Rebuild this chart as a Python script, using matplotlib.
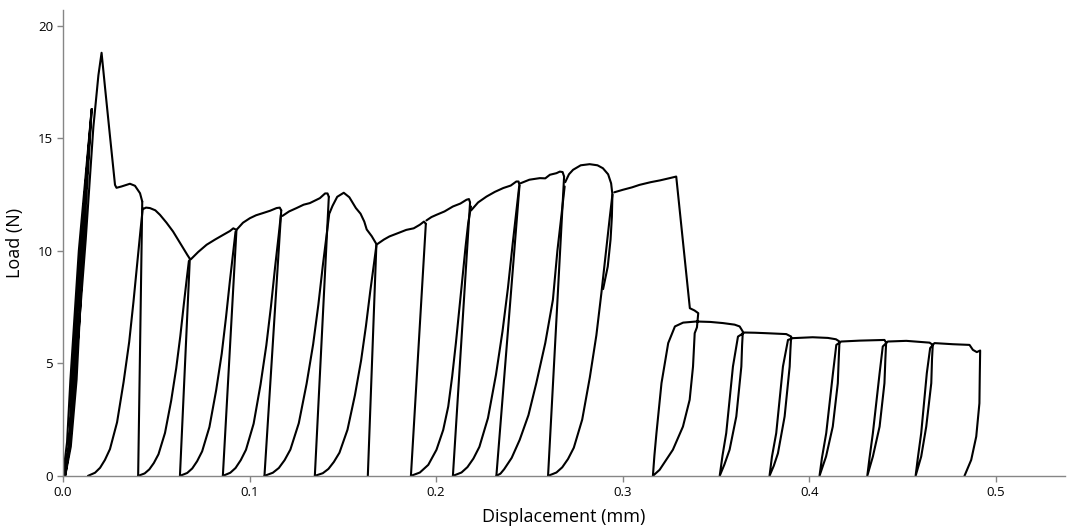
import matplotlib
matplotlib.use("Agg")
import matplotlib.pyplot as plt

# --- initial cycles, peak and first drop ---
initial_x = [0.0000, 0.0022, 0.0040, 0.0085, 0.0154,
             0.0100, 0.0058, 0.0030, 0.0008,
             0.0035, 0.0050, 0.0092, 0.0154,
             0.0108, 0.0073, 0.0042, 0.0012,
             0.0040, 0.0064, 0.0122, 0.0163, 0.0190, 0.0207,
             0.0225, 0.0252, 0.0279, 0.0287, 0.0314, 0.0359, 0.0386, 0.0413, 0.0425]
initial_y = [0.0, 1.5, 4.27, 10.0, 16.3,
             10.0, 4.27, 1.2, 0.0,
             1.4, 4.27, 10.0, 16.3,
             10.0, 4.27, 1.3, 0.0,
             1.5, 4.27, 10.5, 15.5, 17.8, 18.8,
             17.3, 15.1, 12.93, 12.8, 12.86, 12.98, 12.89, 12.56, 12.19]

# --- envelope pieces between unloading points ---
env_x = [
    [0.0428, 0.0445, 0.0466, 0.0495, 0.0520, 0.0555, 0.0590, 0.0635, 0.0668, 0.0680],
    [0.0685, 0.0725, 0.0770, 0.0815, 0.0859, 0.0895, 0.0913, 0.0930],
    [0.0932, 0.0965, 0.1002, 0.1035, 0.1073, 0.1110, 0.1145, 0.1162, 0.1170],
    [0.1176, 0.1212, 0.1252, 0.1290, 0.1323, 0.1355, 0.1377, 0.1405, 0.1418, 0.1425],
    [0.1430, 0.1445, 0.1470, 0.1505, 0.1535, 0.1570, 0.1595, 0.1615, 0.1628, 0.1655, 0.1680],
    [0.1685, 0.1720, 0.1750, 0.1800, 0.1840, 0.1880, 0.1913, 0.1935, 0.1945],
    [0.1948, 0.1975, 0.2002, 0.2045, 0.2090, 0.2130, 0.2163, 0.2176, 0.2182],
    [0.2188, 0.2225, 0.2270, 0.2315, 0.2360, 0.2400, 0.2430, 0.2442, 0.2447],
    [0.2452, 0.2500, 0.2556, 0.2585, 0.2610, 0.2645, 0.2663, 0.2678, 0.2686],
    [0.2692, 0.2712, 0.2734, 0.2775, 0.2823, 0.2865, 0.2894, 0.2922, 0.2938, 0.2945,
     0.2942, 0.2935, 0.2920, 0.2895],
]
env_y = [
    [11.85, 11.92, 11.90, 11.80, 11.60, 11.25, 10.86, 10.25, 9.80, 9.65],
    [9.62, 9.95, 10.27, 10.50, 10.71, 10.88, 11.00, 10.93],
    [10.95, 11.25, 11.45, 11.58, 11.68, 11.78, 11.90, 11.92, 11.80],
    [11.55, 11.75, 11.90, 12.05, 12.12, 12.25, 12.34, 12.55, 12.55, 12.40],
    [11.70, 12.00, 12.40, 12.58, 12.38, 11.90, 11.65, 11.30, 10.95, 10.65, 10.30],
    [10.30, 10.50, 10.64, 10.80, 10.93, 11.00, 11.16, 11.30, 11.20],
    [11.35, 11.50, 11.60, 11.75, 11.97, 12.10, 12.27, 12.30, 12.15],
    [11.80, 12.15, 12.41, 12.62, 12.79, 12.90, 13.08, 13.08, 12.90],
    [13.00, 13.16, 13.23, 13.22, 13.38, 13.45, 13.52, 13.50, 13.30],
    [13.05, 13.40, 13.60, 13.80, 13.85, 13.80, 13.67, 13.40, 13.00, 12.50,
     11.50, 10.50, 9.30, 8.30],
]

# --- unloading lines (top point -> zero load) ---
unload_top_x = [0.0425, 0.0680, 0.0930, 0.1170, 0.1425, 0.1680, 0.1945, 0.2182, 0.2447, 0.2686]
unload_top_y = [12.19, 9.65, 10.93, 11.80, 12.40, 10.30, 11.20, 12.15, 12.90, 13.30]
unload_zero_x = [0.0403, 0.0627, 0.0857, 0.1080, 0.1350, 0.1634, 0.1865, 0.2090, 0.2323, 0.2600]

# --- reloading curves (from zero load back up to the envelope) ---
reload_x = [
    [0.0134, 0.0172, 0.0199, 0.0225, 0.0252, 0.0290, 0.0325, 0.0355, 0.0378, 0.0399, 0.0416, 0.0428],
    [0.0403, 0.0438, 0.0463, 0.0487, 0.0512, 0.0547, 0.0580, 0.0607, 0.0629, 0.0648, 0.0664, 0.0675],
    [0.0627, 0.0666, 0.0693, 0.0719, 0.0746, 0.0785, 0.0821, 0.0851, 0.0874, 0.0895, 0.0913, 0.0925],
    [0.0857, 0.0897, 0.0925, 0.0953, 0.0981, 0.1022, 0.1059, 0.1090, 0.1115, 0.1137, 0.1156, 0.1168],
    [0.1080, 0.1125, 0.1157, 0.1188, 0.1219, 0.1264, 0.1306, 0.1341, 0.1369, 0.1393, 0.1414, 0.1428],
    [0.1350, 0.1393, 0.1423, 0.1452, 0.1482, 0.1525, 0.1565, 0.1598, 0.1624, 0.1647, 0.1667, 0.1680],
    [0.1865, 0.1913, 0.1958, 0.2002, 0.2038, 0.2065, 0.2086, 0.2106, 0.2124, 0.2142, 0.2158, 0.2172, 0.2187],
    [0.2090, 0.2136, 0.2168, 0.2200, 0.2232, 0.2278, 0.2321, 0.2356, 0.2385, 0.2410, 0.2431, 0.2445],
    [0.2323, 0.2345, 0.2365, 0.2405, 0.2448, 0.2495, 0.2537, 0.2585, 0.2626, 0.2650, 0.2671, 0.2689],
    [0.2600, 0.2645, 0.2676, 0.2707, 0.2738, 0.2783, 0.2824, 0.2859, 0.2886, 0.2911, 0.2931, 0.2945],
]
reload_y = [
    [0.0, 0.14, 0.36, 0.71, 1.19, 2.38, 4.17, 5.95, 7.74, 9.52, 10.95, 11.90],
    [0.0, 0.11, 0.29, 0.57, 0.96, 1.91, 3.34, 4.78, 6.21, 7.64, 8.79, 9.55],
    [0.0, 0.13, 0.33, 0.65, 1.09, 2.17, 3.80, 5.43, 7.05, 8.68, 9.98, 10.85],
    [0.0, 0.14, 0.35, 0.70, 1.16, 2.32, 4.06, 5.80, 7.54, 9.28, 10.67, 11.60],
    [0.0, 0.14, 0.35, 0.70, 1.17, 2.34, 4.10, 5.85, 7.61, 9.36, 10.76, 11.70],
    [0.0, 0.12, 0.31, 0.62, 1.03, 2.05, 3.59, 5.13, 6.66, 8.20, 9.43, 10.25],
    [0.0, 0.15, 0.49, 1.16, 2.04, 3.08, 4.41, 5.90, 7.38, 8.86, 10.19, 11.23, 11.97],
    [0.0, 0.15, 0.39, 0.77, 1.29, 2.57, 4.50, 6.43, 8.35, 10.28, 11.82, 12.85],
    [0.0, 0.10, 0.30, 0.80, 1.60, 2.70, 4.12, 5.90, 7.82, 10.00, 11.52, 12.86],
    [0.0, 0.15, 0.38, 0.75, 1.25, 2.50, 4.38, 6.25, 8.13, 10.00, 11.50, 12.50],
]

# --- last part: second drop and the small cycles ---
tail_x = [0.2955, 0.3000, 0.3050, 0.3090, 0.3150, 0.3200, 0.3252, 0.3287,
          0.3360, 0.3385, 0.3405,
          0.3398, 0.3386, 0.3377, 0.3359, 0.3323, 0.3269, 0.3198, 0.3162,
          0.3170, 0.3181, 0.3208, 0.3244, 0.3280, 0.3324, 0.3395, 0.3470, 0.3537, 0.3600, 0.3627, 0.3644,
          0.3640, 0.3636, 0.3609, 0.3573, 0.3545, 0.3520,
          0.3535, 0.3555, 0.3591, 0.3618, 0.3653,
          0.3710, 0.3770, 0.3877, 0.3903,
          0.3899, 0.3895, 0.3868, 0.3832, 0.3810, 0.3787,
          0.3800, 0.3823, 0.3859, 0.3886, 0.3912,
          0.4018, 0.4100, 0.4143, 0.4162,
          0.4158, 0.4153, 0.4126, 0.4090, 0.4055,
          0.4068, 0.4091, 0.4127, 0.4145, 0.4171,
          0.4270, 0.4403, 0.4412,
          0.4408, 0.4403, 0.4377, 0.4341, 0.4311,
          0.4323, 0.4341, 0.4377, 0.4394, 0.4421,
          0.4520, 0.4645, 0.4662,
          0.4658, 0.4654, 0.4627, 0.4600, 0.4570,
          0.4582, 0.4600, 0.4630, 0.4648, 0.4671,
          0.4770, 0.4859, 0.4877, 0.4898, 0.4916,
          0.4914, 0.4912, 0.4895, 0.4868, 0.4832]
tail_y = [12.60, 12.71, 12.82, 12.93, 13.05, 13.13, 13.23, 13.30,
          7.45, 7.35, 7.23,
          6.60, 6.34, 4.86, 3.38, 2.19, 1.16, 0.27, 0.00,
          0.90, 1.90, 4.12, 5.90, 6.64, 6.81, 6.86, 6.84, 6.79, 6.72, 6.64, 6.41,
          5.80, 4.86, 2.64, 1.16, 0.50, 0.00,
          0.90, 1.90, 4.86, 6.19, 6.37,
          6.36, 6.34, 6.30, 6.19,
          5.60, 4.86, 2.64, 1.00, 0.45, 0.00,
          0.85, 1.90, 4.86, 6.04, 6.12,
          6.16, 6.13, 6.07, 5.97,
          5.20, 4.12, 2.19, 0.86, 0.00,
          0.80, 1.90, 4.56, 5.82, 5.97,
          6.01, 6.04, 5.92,
          5.20, 4.12, 2.19, 0.86, 0.00,
          0.80, 1.90, 4.56, 5.75, 5.97,
          6.00, 5.92, 5.82,
          5.20, 4.12, 2.19, 0.86, 0.00,
          0.80, 1.90, 4.56, 5.68, 5.90,
          5.85, 5.82, 5.60, 5.50, 5.57,
          4.50, 3.23, 1.75, 0.71, 0.00]

plt.rcParams['font.family'] = ['Open Sans', 'DejaVu Sans']

fig = plt.figure(figsize=(10.67, 5.27), dpi=100)
ax = fig.add_axes([0.059, 0.097, 0.939, 0.884])

line_kw = dict(color='black', linewidth=1.5, solid_joinstyle='round', solid_capstyle='round')

ax.plot(initial_x, initial_y, **line_kw)
for xs, ys in zip(env_x, env_y):
    ax.plot(xs, ys, **line_kw)
for xt, yt, xz in zip(unload_top_x, unload_top_y, unload_zero_x):
    ax.plot([xt, xz], [yt, 0.0], **line_kw)
for xs, ys in zip(reload_x, reload_y):
    ax.plot(xs, ys, **line_kw)
ax.plot(tail_x, tail_y, **line_kw)

ax.set_xlim(0, 0.537)
ax.set_ylim(0, 20.7)
ax.set_xticks([0.0, 0.1, 0.2, 0.3, 0.4, 0.5])
ax.set_xticklabels(['0.0', '0.1', '0.2', '0.3', '0.4', '0.5'])
ax.set_yticks([0, 5, 10, 15, 20])

for side in ['top', 'right']:
    ax.spines[side].set_visible(False)
for side in ['left', 'bottom']:
    ax.spines[side].set_color('#868686')
    ax.spines[side].set_linewidth(1.0)
ax.tick_params(direction='out', length=4, width=1, color='#868686', labelsize=9.5, pad=3)

ax.set_xlabel('Displacement (mm)', fontsize=13, labelpad=7)
ax.set_ylabel('Load (N)', fontsize=13, labelpad=10)

fig.savefig('out.png', dpi=100)
